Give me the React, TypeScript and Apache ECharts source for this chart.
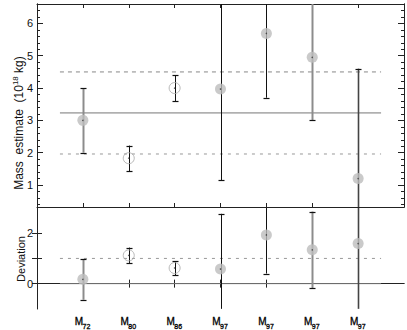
import React, { useEffect, useRef } from 'react';
import * as echarts from 'echarts';

// ---- data ----
const categories = ['72', '80', '86', '97', '97', '97', '97'];
const positions = [1, 2, 3, 4, 5, 6, 7];
const massValue = [3.0, 1.83, 4.0, 3.97, 5.69, 4.95, 1.2];
const massLow = [2.0, 1.43, 3.6, 1.15, 3.7, 3.0, -2.2];
const massHigh = [4.0, 2.22, 4.4, 6.79, 7.68, 6.9, 4.6];
const devValue = [0.17, 1.12, 0.62, 0.58, 1.93, 1.34, 1.59];
const devLow = [-0.64, 0.82, 0.33, -1.61, 0.4, -0.17, -1.05];
const devHigh = [0.98, 1.43, 0.88, 2.77, 3.46, 2.86, 4.23];
const massRef = 3.23;
const massRefLow = 1.96;
const massRefHigh = 4.5;
const devRef = 0;
const devRefHigh = 1;
const refSpan = [0.5, 7.5];
const massTickLabels = [1, 2, 3, 4, 5, 6];
const devTicks = [0, 1, 2];
const devTickLabels = [0, 2];

// ---- styles (kept apart from data) ----
const barKind = ['grey', 'black', 'black', 'black', 'black', 'grey', 'dark'];
const hollow = [false, true, true, false, false, false, false];
const BAR: Record<string, { stroke: string; lineWidth: number }> = {
  grey: { stroke: '#8c8c8c', lineWidth: 2 },
  black: { stroke: '#111', lineWidth: 1 },
  dark: { stroke: '#444', lineWidth: 1.6 },
};
const FONT = '"Liberation Sans", Arial, Helvetica, sans-serif';
const AX = '#222';
const TXT = '#000000';

const massMinor: number[] = [];
for (let k = 2; k <= 32; k++) {
  if (k % 5 !== 0) massMinor.push(Math.round(k * 20) / 100);
}

function errRender(params: any, api: any) {
  const i = params.dataIndex;
  const x = api.value(0);
  const lo = api.value(1);
  const hi = api.value(2);
  const cs = params.coordSys;
  const top = cs.y;
  const bot = cs.y + cs.height;
  const pLo = api.coord([x, lo]);
  const pHi = api.coord([x, hi]);
  const px = Math.round(pLo[0]) + 0.5;
  const yLo = Math.min(pLo[1], bot);
  const yHi = Math.max(pHi[1], top);
  const st = BAR[barKind[i]];
  const children: any[] = [
    { type: 'line', shape: { x1: px, y1: yHi, x2: px, y2: yLo }, style: { stroke: st.stroke, lineWidth: st.lineWidth } },
  ];
  if (pLo[1] <= bot) {
    const y = Math.round(pLo[1]) + 0.5;
    children.push({ type: 'line', shape: { x1: px - 3, y1: y, x2: px + 3, y2: y }, style: { stroke: '#111', lineWidth: 1.2 } });
  }
  if (pHi[1] >= top) {
    const y = Math.round(pHi[1]) + 0.5;
    children.push({ type: 'line', shape: { x1: px - 3, y1: y, x2: px + 3, y2: y }, style: { stroke: '#111', lineWidth: 1.2 } });
  }
  return { type: 'group', children };
}

function xAxisCfg(gridIndex: number, position: string, label: any, showLine = true) {
  return {
    type: 'value',
    gridIndex,
    position,
    min: 0,
    max: 8,
    interval: 1,
    axisLine: { show: showLine, lineStyle: { color: AX, width: 1 } },
    axisTick: { show: showLine, inside: true, length: 4, customValues: positions, lineStyle: { color: AX } },
    splitLine: { show: false },
    axisLabel: label || { show: false },
  };
}

function yAxisCfg(gridIndex: number, position: string, min: number, max: number, ticks: number[], len: number, labels: number[] | null) {
  return {
    type: 'value',
    gridIndex,
    position,
    min,
    max,
    axisLine: { show: true, lineStyle: { color: AX, width: 1 } },
    axisTick: { show: true, inside: true, length: len, customValues: ticks, lineStyle: { color: AX } },
    splitLine: { show: false },
    axisLabel: labels
      ? { show: true, customValues: labels, margin: 4, fontSize: 11, fontFamily: FONT, color: '#111' }
      : { show: false },
  };
}

function refLine(xi: number, yi: number, y: number, color: string, width: number, type: any) {
  return {
    type: 'line',
    xAxisIndex: xi,
    yAxisIndex: yi,
    data: [[refSpan[0], y], [refSpan[1], y]],
    symbol: 'none',
    silent: true,
    z: 1,
    lineStyle: { color, width, type },
  };
}

export default function App() {
  const ref = useRef<HTMLDivElement>(null);
  useEffect(() => {
    if (!ref.current) return;
    const chart = echarts.init(ref.current, null, { renderer: 'svg' });
    const massErr = positions.map((p, i) => [p, massLow[i], massHigh[i]]);
    const devErr = positions.map((p, i) => [p, devLow[i], devHigh[i]]);
    const massFilled = positions.map((p, i) => [p, massValue[i]]).filter((_, i) => !hollow[i]);
    const massHollow = positions.map((p, i) => [p, massValue[i]]).filter((_, i) => hollow[i]);
    const devFilled = positions.map((p, i) => [p, devValue[i]]).filter((_, i) => !hollow[i]);
    const devHollow = positions.map((p, i) => [p, devValue[i]]).filter((_, i) => hollow[i]);
    const massPts = positions.map((p, i) => [p, massValue[i]]);
    const devPts = positions.map((p, i) => [p, devValue[i]]);

    const filledStyle = { color: '#bdbdbd' };
    const hollowStyle = { color: 'rgba(0,0,0,0)', borderColor: '#a8a8a8', borderWidth: 1 };

    const mLabel = {
      show: true,
      customValues: positions,
      margin: 8,
      fontSize: 10,
      fontWeight: 'normal',
      fontFamily: FONT,
      color: TXT,
      textBorderColor: TXT,
      textBorderWidth: 0.3,
      padding: [0, 8, 0, 0],
      formatter: () => 'M',
    };
    const subLabel = {
      show: true,
      customValues: positions,
      margin: 14,
      fontSize: 7,
      fontWeight: 'normal',
      fontFamily: FONT,
      color: TXT,
      textBorderColor: TXT,
      textBorderWidth: 0.3,
      padding: [0, 0, 0, 7],
      formatter: (v: number) => {
        const i = positions.indexOf(v);
        return i < 0 ? '' : categories[i];
      },
    };

    chart.setOption({
      animation: false,
      backgroundColor: '#fff',
      textStyle: { color: TXT, fontFamily: FONT },
      grid: [
        { left: 37, top: 4, width: 367, height: 203 },
        { left: 37, top: 208, width: 367, height: 101 },
      ],
      xAxis: [
        xAxisCfg(0, 'bottom', null),
        xAxisCfg(0, 'top', null),
        xAxisCfg(1, 'top', null),
        xAxisCfg(1, 'bottom', mLabel),
        xAxisCfg(1, 'bottom', subLabel, false),
      ],
      yAxis: [
        yAxisCfg(0, 'left', 0.32, 6.6, massTickLabels, 6, massTickLabels),
        yAxisCfg(0, 'left', 0.32, 6.6, massMinor, 3, null),
        yAxisCfg(0, 'right', 0.32, 6.6, massTickLabels, 6, null),
        yAxisCfg(0, 'right', 0.32, 6.6, massMinor, 3, null),
        yAxisCfg(1, 'left', -1, 3, devTicks, 5, devTickLabels),
        yAxisCfg(1, 'right', -1, 3, devTicks, 5, null),
      ],
      graphic: [
        {
          type: 'text',
          x: 19,
          y: 123,
          rotation: Math.PI / 2,
          style: {
            text: 'Mass  estimate  (10{sup|18} kg)',
            font: `12px ${FONT}`,
            fill: '#111',
            align: 'center',
            verticalAlign: 'middle',
            rich: { sup: { fontSize: 8, fontFamily: FONT, fill: '#111', padding: [0, 0, 7, 0] } },
          },
        },
        {
          type: 'text',
          x: 21,
          y: 259,
          rotation: Math.PI / 2,
          style: {
            text: 'Deviation',
            font: `11px ${FONT}`,
            fill: '#111',
            align: 'center',
            verticalAlign: 'middle',
          },
        },
      ],
      series: [
        refLine(0, 0, massRef, '#777', 1, 'solid'),
        refLine(0, 0, massRefHigh, '#bbb', 1.6, [4, 4]),
        refLine(0, 0, massRefLow, '#999', 1, [3, 5]),
        refLine(3, 4, devRef, '#777', 1, 'solid'),
        refLine(3, 4, devRefHigh, '#999', 1, [3, 5]),
        { type: 'custom', xAxisIndex: 0, yAxisIndex: 0, data: massErr, renderItem: errRender, encode: { x: 0, y: [1, 2] }, z: 2, silent: true },
        { type: 'custom', xAxisIndex: 3, yAxisIndex: 4, data: devErr, renderItem: errRender, encode: { x: 0, y: [1, 2] }, z: 2, silent: true },
        { type: 'scatter', xAxisIndex: 0, yAxisIndex: 0, data: massFilled, symbolSize: 11, itemStyle: filledStyle, z: 3, silent: true },
        { type: 'scatter', xAxisIndex: 0, yAxisIndex: 0, data: massHollow, symbolSize: 11, itemStyle: hollowStyle, z: 3, silent: true },
        { type: 'scatter', xAxisIndex: 3, yAxisIndex: 4, data: devFilled, symbolSize: 11, itemStyle: filledStyle, z: 3, silent: true },
        { type: 'scatter', xAxisIndex: 3, yAxisIndex: 4, data: devHollow, symbolSize: 11, itemStyle: hollowStyle, z: 3, silent: true },
        { type: 'scatter', xAxisIndex: 0, yAxisIndex: 0, data: massPts, symbolSize: 1.5, itemStyle: { color: '#333' }, z: 4, silent: true },
        { type: 'scatter', xAxisIndex: 3, yAxisIndex: 4, data: devPts, symbolSize: 1.5, itemStyle: { color: '#333' }, z: 4, silent: true },
      ],
    });
    return () => chart.dispose();
  }, []);
  return (
    <div style={{ position: 'fixed', left: 0, top: 0, width: 407, height: 330, background: '#fff' }}>
      <div ref={ref} style={{ width: 407, height: 330 }} />
    </div>
  );
}
